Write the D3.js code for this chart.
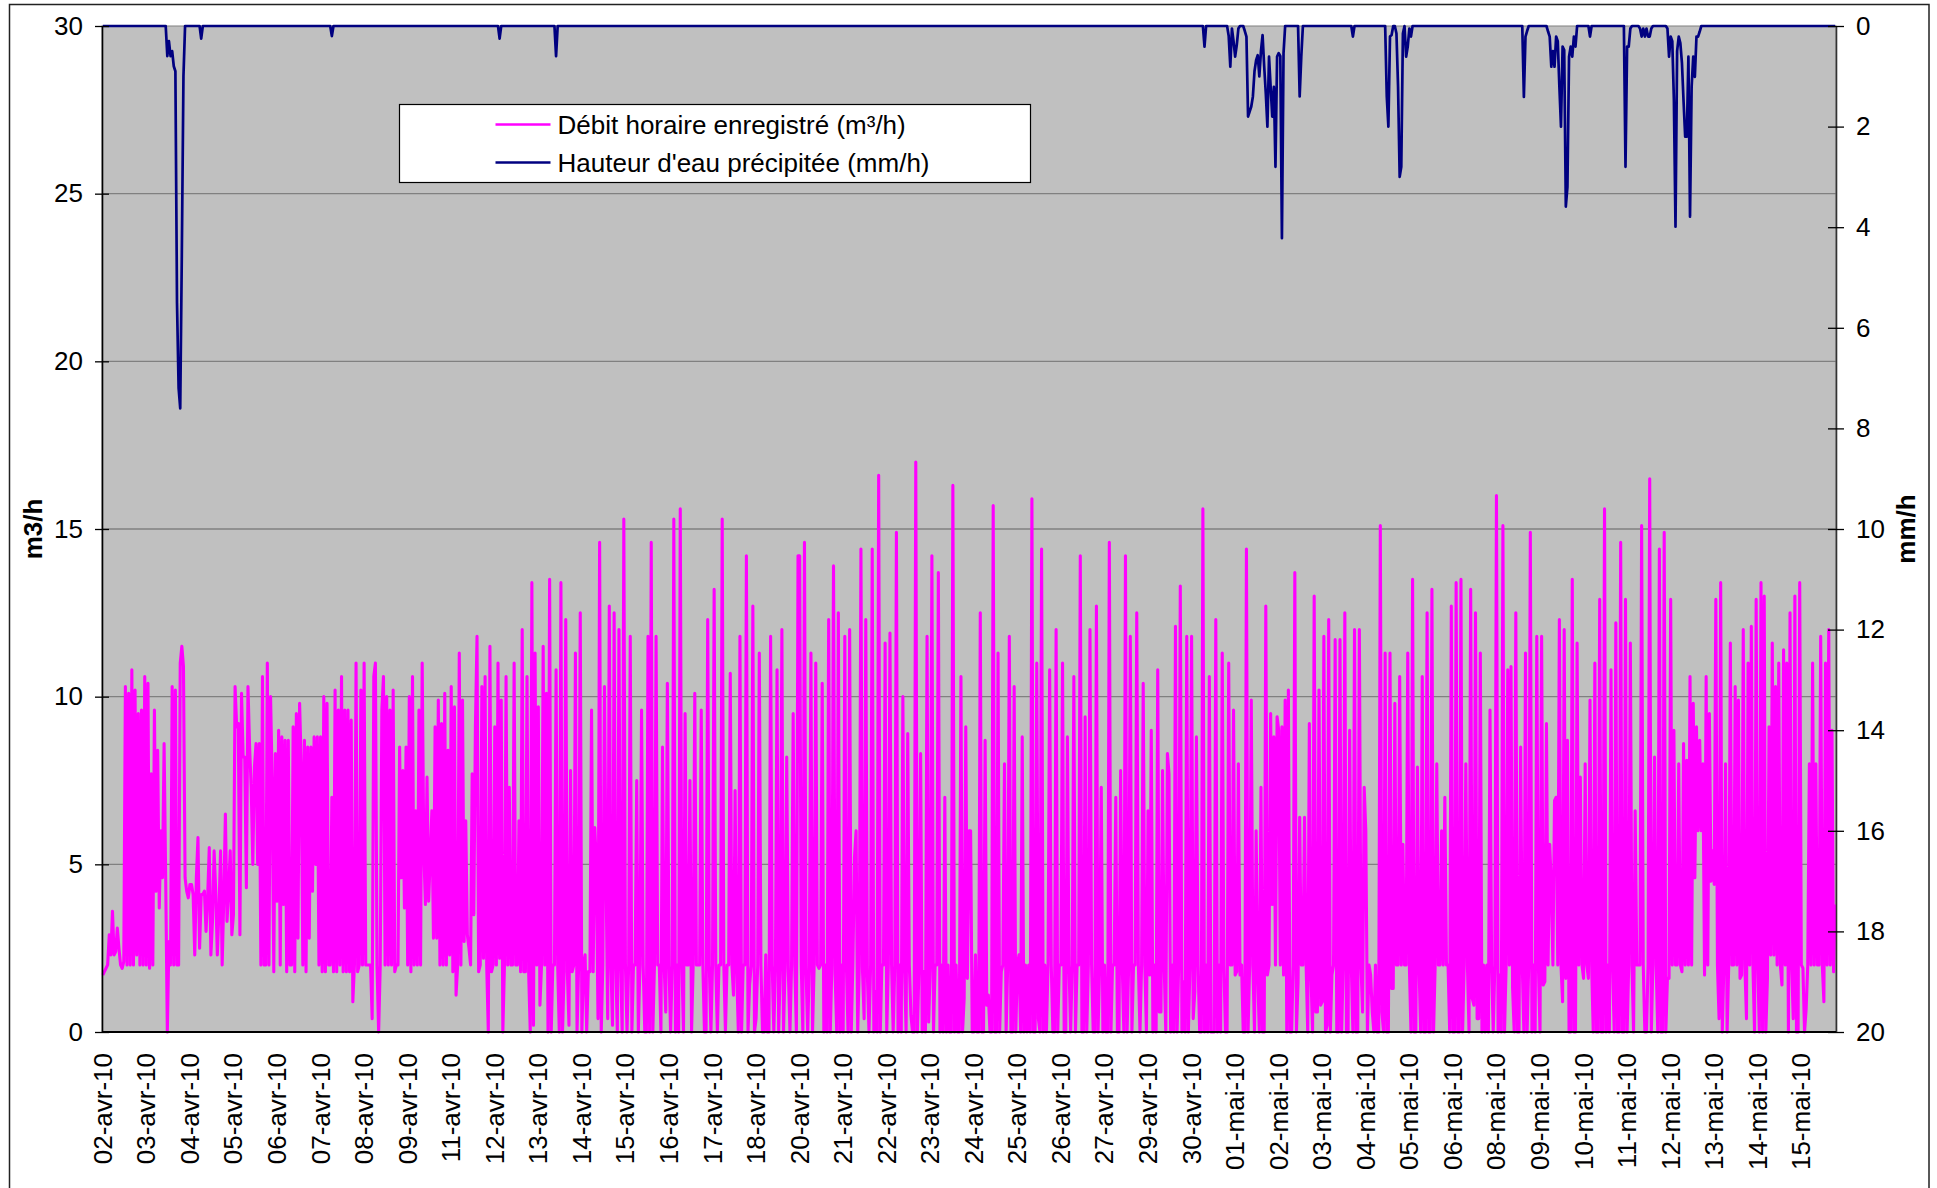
<!DOCTYPE html>
<html lang="fr">
<head>
<meta charset="utf-8">
<title>Débit horaire et hauteur d'eau précipitée</title>
<script src="https://cdn.jsdelivr.net/npm/d3@7"></script>
<style>
  body { margin: 0; background: #fff; }
  svg { display: block; font-family: "Liberation Sans", Arial, sans-serif; }
</style>
</head>
<body>
<div id="chart"></div>
<script>
// hourly flow (m3/h), one value per hour from 02-avr-10
const flowM3h = [
  1.7,1.8,1.9,2.0,2.9,2.3,3.6,2.3,2.4,3.1,
  2.5,2.0,1.9,2.1,10.3,2.0,10.1,2.0,10.8,2.0,
  10.2,2.3,9.5,2.0,9.6,2.0,10.6,2.0,10.4,1.9,
  7.7,2.0,9.6,4.2,8.4,3.7,6.0,4.6,8.6,4.5,
  0,2.7,2.0,10.3,2.0,10.2,2.0,2.0,11.0,11.5,
  10.9,4.6,4.2,4.0,4.4,4.4,4.1,2.3,4.6,5.8,
  2.5,4.1,4.1,4.2,3.0,4.0,5.5,2.3,3.3,5.4,
  4.2,2.3,3.6,5.4,2.0,4.0,6.5,3.3,4.2,5.4,
  2.9,3.5,10.3,9.1,9.2,2.9,10.1,8.2,8.2,4.3,
  10.3,8.5,7.3,5.0,7.9,8.6,5.0,8.6,2.0,10.6,
  2.0,2.0,11.0,2.0,10.0,7.5,1.8,8.3,3.9,9.0,
  2.0,8.8,3.8,8.7,1.8,8.7,2.0,2.0,9.1,1.8,
  9.5,2.8,9.8,8.0,2.0,8.7,1.8,8.5,2.8,8.5,
  4.2,8.8,5.0,8.8,2.0,8.8,1.8,10.0,1.8,9.8,
  2.0,2.0,7.0,1.8,10.2,1.8,9.6,2.0,10.6,1.8,
  9.6,1.8,9.6,1.8,9.3,0.9,2.0,11.0,1.8,2.0,
  10.2,2.0,11.0,2.0,2.0,2.0,2.0,0.4,10.6,11.0,
  2.0,0,2.0,9.6,10.6,2.0,10.0,2.0,9.6,2.0,
  10.2,1.8,2.0,2.0,8.5,4.6,7.8,3.7,8.5,2.0,
  10.0,1.8,10.6,2.0,6.6,2.0,9.6,2.0,11.0,5.4,
  3.8,7.6,3.9,5.2,6.6,2.8,9.1,2.8,9.9,2.0,
  9.2,2.0,10.1,2.0,8.4,2.3,
  10.3,1.8,9.7,1.1,2.0,11.3,2.0,9.9,2.7,6.3,
  2.9,2.5,2.0,7.7,3.5,9.1,11.8,1.8,2.0,10.3,
  2.2,10.6,2.0,0,11.5,1.8,2.0,9.1,2.0,11.0,
  2.2,9.9,0,2.0,10.6,2.0,7.3,2.0,2.0,11.0,
  2.0,2.0,6.3,1.8,12.0,1.8,1.8,10.6,1.8,0,
  13.4,0.2,11.3,2.0,9.7,0.8,2.0,11.5,2.0,10.1,
  0,13.5,0,2.0,2.0,10.8,2.0,0,13.4,0,
  1.8,12.3,1.8,0.2,7.8,1.8,2.0,11.3,0,2.0,
  12.5,0,2.0,2.3,0,1.8,1.8,9.6,1.8,6.1,
  5.0,0.4,14.6,0,2.0,10.3,4.6,0.4,12.7,2.0,
  0.2,12.5,2.0,0,12.0,2.0,0,15.3,2.0,0,
  2.0,11.8,0,2.0,2.0,7.5,0,2.0,9.6,2.0,
  0,0,11.8,0,14.6,0,2.0,11.8,2.0,2.0,
  0,8.5,2.0,0.6,10.4,2.0,0,2.0,15.3,0,
  2.0,0,15.6,2.0,0,9.5,2.0,2.0,7.5,0,
  2.0,10.1,2.0,2.0,2.0,9.6,2.0,0,0,12.3,
  2.0,0,2.0,13.2,2.0,0,2.0,2.0,15.3,2.0,
  0,2.0,2.0,10.7,2.0,1.1,7.2,1.8,0,11.8,
  0,2.0,2.0,14.2,0,1.4,2.0,12.7,0,0.4,
  2.0,11.3,2.0,0,0,2.3,0,0,11.8,2.0,
  0,2.0,10.8,0,2.0,12.0,0,2.0,8.2,1.8,
  0,2.0,9.5,2.0,0,14.2,
  14.2,2.0,0,14.6,1.8,0,2.0,11.3,0,2.0,
  11.0,2.0,1.9,2.0,10.4,0,2.0,0,12.3,0,
  2.0,13.9,1.7,0,12.5,0,2.0,0,11.8,2.0,
  0,12.0,0,2.0,5.2,6.0,0,2.0,14.4,1.8,
  0.4,12.3,1.7,0,2.0,14.4,0,1.2,0,16.6,
  0,2.0,2.0,11.6,0,2.0,11.9,2.0,0,2.0,
  14.9,0,2.0,0,10.0,2.0,0,8.9,2.0,0.5,
  0,0,17.0,0,2.0,8.3,0,1.8,0,11.8,
  0.3,2.0,14.2,0,2.0,2.0,13.7,0,2.0,0,
  7.0,0,2.0,0,0,16.3,0,2.0,0,0,
  10.6,0,1.0,9.1,1.6,6.0,6.0,0,0,2.3,
  0,0,12.5,0,0,8.7,0.8,1.1,0,0,
  15.7,0,0,11.3,0,1.8,2.0,8.0,0,2.0,
  11.8,0,0,10.3,0,2.0,2.3,0,8.8,0,
  2.0,0,2.0,0,15.9,0,0,11.0,0.4,0,
  14.4,0,2.0,0,2.0,10.8,2.0,0,0,12.0,
  0,2.0,2.0,11.0,0,0,8.8,2.0,0,2.0,
  10.6,0,2.0,2.0,14.2,0,0,9.4,0,2.0,
  12.0,2.0,0,0,12.7,0,2.0,7.3,0,2.0,
  0,0,14.6,0,2.0,2.0,7.0,0,0,7.8,
  2.0,0,14.2,0,2.0,11.8,0,2.0,2.0,12.5,
  2.0,0,2.0,10.4,2.0,0,
  6.6,1.7,9.0,0,2.0,0,10.8,0.6,0.6,7.8,
  2.0,0,8.3,7.7,0,2.0,0,12.1,0,2.0,
  13.3,0,1.5,0,11.8,0,2.0,11.8,0.4,1.2,
  8.8,2.0,0,0,15.6,0,2.0,0,10.6,0,
  0,0,12.3,0,2.0,0,11.3,2.0,0,0,
  11.0,2.0,2.0,9.6,1.7,1.8,8.0,1.7,2.0,0,
  0,14.4,0,2.0,9.9,2.0,0,6.0,1.7,0,
  7.3,0,0,12.7,1.7,2.0,9.5,3.8,8.8,2.0,
  9.4,9.0,2.0,9.1,1.7,9.9,0,10.2,0,0,
  2.0,13.7,0,1.5,6.4,2.0,2.0,6.4,2.0,0,
  9.2,1.7,0,13.0,0.6,0.6,10.2,0.8,0.9,11.8,
  0,0.2,12.3,0,1.7,2.0,11.7,0,0,11.7,
  0,2.0,12.5,0,0,9.0,2.0,0,12.0,0,
  0,12.0,2.0,0.6,7.3,6.0,0,2.0,1.7,0.6,
  0,2.0,0,0,15.1,0.6,0,11.3,0,0,
  11.3,1.3,1.3,9.8,2.0,2.0,10.6,2.0,5.6,2.0,
  2.0,11.3,2.0,0,13.5,0,0,7.9,2.0,0,
  10.6,0,0,12.5,0,0,13.2,0,2.0,8.0,
  2.0,2.0,6.0,2.0,7.0,2.0,2.0,0,12.7,0,
  0,13.4,0,0,13.5,0,2.0,8.0,2.0,0,
  13.2,1.0,0.8,12.5,0.4,0.4,11.3,0,2.0,0,
  2.0,0,9.6,2.0,0,2.0,
  16.0,0,1.7,0,15.1,0,2.0,10.8,2.0,10.9,
  1.3,0,12.5,0,0,8.5,2.0,0,11.3,0,
  2.0,14.9,0,2.0,0,11.8,2.0,0,11.8,1.4,
  1.5,9.2,2.0,5.6,4.4,2.0,6.9,7.0,2.0,12.3,
  2.0,0.9,12.0,1.6,8.7,0,0,13.5,0,0,
  11.6,2.0,7.6,2.0,1.6,8.0,2.0,1.6,9.9,2.0,
  0,11.0,0,0,12.9,0,0,15.6,0,2.0,
  0,10.8,2.0,0,12.2,0,0,14.6,0,0,
  12.9,0,2.0,11.6,2.0,0,6.6,2.0,2.0,2.0,
  15.1,2.0,0,0,2.0,16.5,0,2.0,8.2,2.0,
  0,14.4,0,0,14.9,0,1.6,1.6,12.9,2.0,
  9.0,2.0,2.0,8.0,2.0,1.8,8.6,2.0,8.1,2.0,
  10.6,2.0,9.8,4.6,9.1,6.0,8.7,6.0,8.0,1.7,
  10.6,2.0,9.5,4.5,5.4,4.4,12.9,2.0,0.4,13.4,
  0,2.0,8.0,0,2.0,11.6,2.0,2.0,10.3,2.0,
  9.9,1.6,1.7,12.0,2.0,0.4,11.0,2.0,12.1,2.0,
  0,12.9,2.0,0,13.4,0,13.0,0,1.6,9.1,
  2.3,11.6,2.3,10.3,2.0,11.0,2.0,1.4,11.4,2.0,
  11.0,0,12.5,2.0,0.4,13.0,0,0,13.4,2.0,
  1.9,0,0.7,2.0,8.0,2.0,11.0,2.0,8.0,2.0,
  2.0,11.8,2.0,0.9,11.0,2.0,12.0,2.0,9.0,1.8,
  3.8
];

// rainfall: hour index (same hours as flowM3h) and mm/h, hours not listed are dry
const rainHours = [
  40,41,42,43,44,45,46,47,48,49,50,61,142,246,281,
  683,698,699,700,701,702,703,704,708,709,710,711,712,713,714,715,716,717,718,719,
  720,721,722,723,724,725,726,727,728,729,730,731,732,742,743,775,
  796,797,798,799,802,803,804,805,806,808,809,810,811,
  881,882,883,896,897,898,899,900,901,902,903,904,905,906,907,908,909,910,911,912,913,922,
  944,945,946,947,953,954,955,956,957,958,959,960,
  970,971,972,973,974,975,976,977,978,979,980,981,982,983,984,985,986,987,988,989,990
];
const rainMm = [
  0.6,0.3,0.6,0.5,0.8,0.9,5.5,7.2,7.6,4.5,1.0,0.25,0.2,0.25,0.6,
  0.41,0.2,0.81,0.05,0.3,0.61,0.38,0.05,0.1,0.21,1.8,1.7,1.6,1.4,0.9,0.68,0.58,1.0,0.5,0.18,
  0.8,1.34,2.0,0.61,1.21,1.8,1.21,2.8,0.61,0.54,0.6,4.22,0.54,1.4,0.61,0.21,
  1.4,2.0,0.21,0.18,0.15,1.21,3.0,2.8,0.15,0.61,0.41,0.05,0.21,
  1.41,0.21,0.1,0.11,0.21,0.81,0.5,0.81,0.21,0.3,1.2,2.0,0.41,0.48,3.59,3.2,0.61,0.41,0.61,0.21,0.41,0.21,
  2.8,0.41,0.41,0.05,0.05,0.21,0.05,0.21,0.05,0.21,0.21,0.05,
  0.05,0.61,0.21,0.3,1.47,3.99,0.5,0.21,0.34,0.74,1.5,2.2,2.2,0.61,3.79,1.21,0.61,1.01,0.21,0.21,0.11
];

const dateLabels = [
  '02-avr-10','03-avr-10','04-avr-10','05-avr-10','06-avr-10','07-avr-10','08-avr-10','09-avr-10',
  '11-avr-10','12-avr-10','13-avr-10','14-avr-10','15-avr-10','16-avr-10','17-avr-10','18-avr-10',
  '20-avr-10','21-avr-10','22-avr-10','23-avr-10','24-avr-10','25-avr-10','26-avr-10','27-avr-10',
  '29-avr-10','30-avr-10','01-mai-10','02-mai-10','03-mai-10','04-mai-10','05-mai-10','06-mai-10',
  '08-mai-10','09-mai-10','10-mai-10','11-mai-10','12-mai-10','13-mai-10','14-mai-10','15-mai-10'
];
const labelStep = 27; // one date label every 27 hourly categories

const leftTicks = [0, 5, 10, 15, 20, 25, 30];
const rightTicks = [0, 2, 4, 6, 8, 10, 12, 14, 16, 18, 20];

const legendItems = [
  { label: 'Débit horaire enregistré (m³/h)', color: '#ff00ff' },
  { label: "Hauteur d'eau précipitée (mm/h)", color: '#000080' }
];

document.addEventListener('DOMContentLoaded', function () {
  const width = 1937;
  const height = 1188;
  const plot = { left: 102, right: 1836, top: 26, bottom: 1032 };

  const rain = flowM3h.map(() => 0);
  rainHours.forEach((h, i) => { rain[h] = rainMm[i]; });

  const svg = d3.select('#chart').append('svg').attr('width', width).attr('height', height);

  // chart area frame
  svg.append('rect')
    .attr('x', 9.5).attr('y', 4.5)
    .attr('width', 1919.5).attr('height', 1200)
    .attr('fill', '#fff').attr('stroke', '#222').attr('stroke-width', 1.5);

  const x = d3.scaleLinear().domain([-0.5, flowM3h.length - 0.5]).range([plot.left, plot.right]);
  const yLeft = d3.scaleLinear().domain([0, 30]).range([plot.bottom, plot.top]);
  const yRight = d3.scaleLinear().domain([0, 20]).range([plot.top, plot.bottom]);

  svg.append('rect')
    .attr('x', plot.left).attr('y', plot.top)
    .attr('width', plot.right - plot.left).attr('height', plot.bottom - plot.top)
    .attr('fill', '#c0c0c0').attr('stroke', '#808080').attr('stroke-width', 1);

  svg.append('g')
    .selectAll('line')
    .data(leftTicks.filter((t) => t > 0 && t < 30))
    .enter()
    .append('line')
    .attr('x1', plot.left).attr('x2', plot.right)
    .attr('y1', (d) => yLeft(d)).attr('y2', (d) => yLeft(d))
    .attr('stroke', '#808080').attr('stroke-width', 1.3);

  svg.append('path')
    .datum(flowM3h)
    .attr('fill', 'none')
    .attr('stroke', '#ff00ff')
    .attr('stroke-width', 3.1)
    .attr('stroke-linejoin', 'round')
    .attr('d', d3.line().x((d, i) => x(i)).y((d) => yLeft(d)));

  svg.append('path')
    .datum(rain)
    .attr('fill', 'none')
    .attr('stroke', '#000080')
    .attr('stroke-width', 2.7)
    .attr('stroke-linejoin', 'round')
    .attr('d', d3.line().x((d, i) => x(i)).y((d) => yRight(d)));

  // left axis, ticks crossing the axis line
  svg.append('g')
    .attr('transform', `translate(${plot.left},0)`)
    .call(d3.axisLeft(yLeft).tickValues(leftTicks).tickSize(7).tickSizeOuter(0).tickPadding(12))
    .call((g) => g.attr('font-family', null).attr('font-size', 26))
    .call((g) => g.select('.domain').attr('stroke', '#000').attr('stroke-width', 1.6))
    .call((g) => g.selectAll('.tick line').attr('x1', 7).attr('stroke', '#000').attr('stroke-width', 1.3))
    .call((g) => g.selectAll('.tick text').attr('fill', '#000'));

  svg.append('g')
    .attr('transform', `translate(${plot.right},0)`)
    .call(d3.axisRight(yRight).tickValues(rightTicks).tickSize(8).tickSizeOuter(0).tickPadding(12))
    .call((g) => g.attr('font-family', null).attr('font-size', 26))
    .call((g) => g.select('.domain').attr('stroke', '#333').attr('stroke-width', 1.6))
    .call((g) => g.selectAll('.tick line').attr('x1', -8).attr('stroke', '#000').attr('stroke-width', 1.3))
    .call((g) => g.selectAll('.tick text').attr('fill', '#000'));

  svg.append('line')
    .attr('x1', plot.left).attr('x2', plot.right)
    .attr('y1', plot.bottom).attr('y2', plot.bottom)
    .attr('stroke', '#000').attr('stroke-width', 2);

  svg.append('g')
    .selectAll('text')
    .data(dateLabels)
    .enter()
    .append('text')
    .attr('transform', (d, i) => `translate(${x(i * labelStep)},1053) rotate(-90)`)
    .attr('text-anchor', 'end')
    .attr('dominant-baseline', 'central')
    .attr('font-size', 26)
    .text((d) => d);

  svg.append('text')
    .attr('transform', `translate(33,${(plot.top + plot.bottom) / 2}) rotate(-90)`)
    .attr('text-anchor', 'middle')
    .attr('dominant-baseline', 'central')
    .attr('font-size', 26).attr('font-weight', 'bold')
    .text('m3/h');

  svg.append('text')
    .attr('transform', `translate(1906,${(plot.top + plot.bottom) / 2}) rotate(-90)`)
    .attr('text-anchor', 'middle')
    .attr('dominant-baseline', 'central')
    .attr('font-size', 26).attr('font-weight', 'bold')
    .text('mm/h');

  const legend = svg.append('g').attr('transform', 'translate(399.5,104.5)');
  legend.append('rect')
    .attr('width', 631).attr('height', 78)
    .attr('fill', '#fff').attr('stroke', '#000').attr('stroke-width', 1.2);

  const item = legend.selectAll('g')
    .data(legendItems)
    .enter()
    .append('g')
    .attr('transform', (d, i) => `translate(0,${20 + i * 38})`);
  item.append('line')
    .attr('x1', 96).attr('x2', 151)
    .attr('stroke', (d) => d.color).attr('stroke-width', 2.6);
  item.append('text')
    .attr('x', 158)
    .attr('dominant-baseline', 'central')
    .attr('font-size', 26)
    .text((d) => d.label);
});
</script>
</body>
</html>
